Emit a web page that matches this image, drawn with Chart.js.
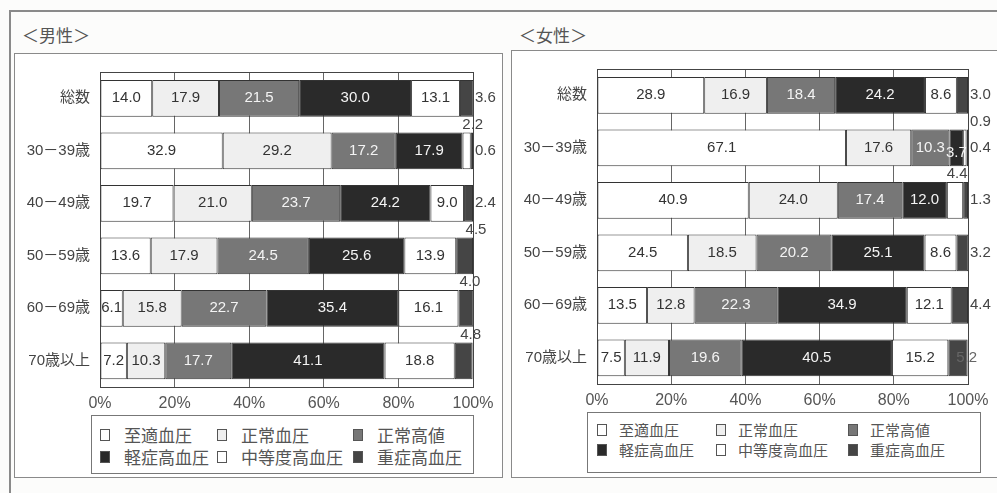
<!DOCTYPE html>
<html>
<head>
<meta charset="utf-8">
<script src="https://cdn.jsdelivr.net/npm/chart.js@4/dist/chart.umd.min.js"></script>
<style>
  body { margin: 0; background: #fcfcfb; font-family: "Liberation Sans", "Noto Sans CJK JP", sans-serif; color: #444; }
  #page { position: relative; width: 997px; height: 493px; overflow: hidden; }
  .line { position: absolute; background: #8a8a8a; }
  .panel { position: absolute; border: 1.5px solid #8a8a8a; background: #fff; box-sizing: border-box; }
  .title { position: absolute; font-family: "Noto Sans CJK JP", sans-serif; font-size: 17px; color: #555; }
  canvas { position: absolute; }
  .legend { position: absolute; border: 1.5px solid #777; box-sizing: border-box; background: #fff; }
  .item { position: absolute; font-family: "Noto Sans CJK JP", sans-serif; color: #555; white-space: nowrap; line-height: 1; }
  .sw { position: absolute; width: 10px; height: 12px; border: 1px solid #555; box-sizing: border-box; }
</style>
</head>
<body>
<div id="page">
  <div class="line" style="left:10px;top:10px;width:987px;height:1.5px"></div>
  <div class="line" style="left:9px;top:10px;width:1.5px;height:483px"></div>
  <div class="title" style="left:22px;top:22px">＜男性＞</div>
  <div class="title" style="left:519px;top:22px">＜女性＞</div>
  <div class="panel" style="left:14px;top:53px;width:489px;height:425px"></div>
  <div class="panel" style="left:511px;top:50px;width:490px;height:428px"></div>
  <canvas id="male" width="488" height="424" style="left:14px;top:53px"></canvas>
  <canvas id="female" width="485" height="427" style="left:512px;top:50px"></canvas>
  <div class="legend" id="legMale" style="left:91px;top:415px;width:383px;height:59px"></div>
  <div class="legend" id="legFemale" style="left:587px;top:412px;width:394px;height:61px"></div>
</div>
<script>
const categories = ['総数', '30－39歳', '40－49歳', '50－59歳', '60－69歳', '70歳以上'];
const seriesNames = ['至適血圧', '正常血圧', '正常高値', '軽症高血圧', '中等度高血圧', '重症高血圧'];
const seriesColors = ['#ffffff', '#efefef', '#777777', '#2a2a2a', '#ffffff', '#454545'];
const labelColors = ['#333', '#333', '#f4f4f4', '#f4f4f4', '#333', '#444'];
const xTicks = [0, 20, 40, 60, 80, 100];

// 男性
const maleOptimal = [14.0, 32.9, 19.7, 13.6, 6.1, 7.2];
const maleNormal = [17.9, 29.2, 21.0, 17.9, 15.8, 10.3];
const maleHighNormal = [21.5, 17.2, 23.7, 24.5, 22.7, 17.7];
const maleMild = [30.0, 17.9, 24.2, 25.6, 35.4, 41.1];
const maleModerate = [13.1, 2.2, 9.0, 13.9, 16.1, 18.8];
const maleSevere = [3.6, 0.6, 2.4, 4.5, 4.0, 4.8];

// 女性
const femaleOptimal = [28.9, 67.1, 40.9, 24.5, 13.5, 7.5];
const femaleNormal = [16.9, 17.6, 24.0, 18.5, 12.8, 11.9];
const femaleHighNormal = [18.4, 10.3, 17.4, 20.2, 22.3, 19.6];
const femaleMild = [24.2, 3.7, 12.0, 25.1, 34.9, 40.5];
const femaleModerate = [8.6, 0.9, 4.4, 8.6, 12.1, 15.2];
const femaleSevere = [3.0, 0.4, 1.3, 3.2, 4.4, 5.2];

// ラベル位置の例外 (dataset,index)
const malePlace = {
    '4,1': ['above', 2],
    '5,3': ['above', 3],
    '5,4': ['above', -3],
    '5,5': ['above', -2]
};
const femalePlace = {
    '4,1': ['above', 14],
    '4,2': ['above', -6],
    '3,1': ['center', 0, 5],
    '5,5': ['end', -1]
};

const segLabels = {
    id: 'segLabels',
    afterDatasetsDraw(chart, args, opts) {
        const ctx = chart.ctx;
        const area = chart.chartArea;
        ctx.save();
        ctx.font = '15px "Liberation Sans", sans-serif';
        chart.data.datasets.forEach(function (ds, i) {
            const meta = chart.getDatasetMeta(i);
            meta.data.forEach(function (bar, j) {
                const text = ds.data[j].toFixed(1);
                const right = Math.min(bar.x, area.right);
                let place = opts.place[i + ',' + j];
                if (!place) {
                    place = (i === 5) ? ['right', 0] : ['center', 0];
                }
                let x, y = bar.y, align = 'center', color = labelColors[i];
                if (place[0] === 'center') {
                    x = (bar.base + right) / 2 + place[1];
                    y = bar.y + (place[2] || 0);
                } else if (place[0] === 'right') {
                    x = right + 2 + place[1];
                    align = 'left';
                    color = '#444';
                } else if (place[0] === 'above') {
                    x = right + place[1];
                    y = bar.y - bar.height / 2 - 8;
                    color = '#444';
                } else {
                    x = right + place[1];
                    color = '#666';
                }
                ctx.fillStyle = color;
                ctx.textAlign = align;
                ctx.textBaseline = 'middle';
                ctx.fillText(text, x, y);
            });
        });
        ctx.restore();
    },
    beforeDatasetsDraw(chart) {
        // 枠線 (上・右)
        const ctx = chart.ctx;
        const a = chart.chartArea;
        ctx.save();
        ctx.strokeStyle = '#444';
        ctx.lineWidth = 1;
        ctx.strokeRect(a.left + 0.5, a.top + 0.5, a.right - a.left, a.bottom - a.top);
        ctx.restore();
    }
};

function drawPanel(canvasId, series, place, yWidth, xHeight) {
    const datasets = series.map(function (values, i) {
        return {
            label: seriesNames[i],
            data: values,
            backgroundColor: seriesColors[i],
            borderColor: '#333',
            borderWidth: 1,
            borderSkipped: false,
            barPercentage: 0.7,
            categoryPercentage: 1.0
        };
    });

    const options = {
        indexAxis: 'y',
        responsive: false,
        animation: false,
        devicePixelRatio: 1,
        layout: { padding: { top: 7, right: 29, left: 0, bottom: 0 } },
        scales: {
            x: {
                stacked: true,
                min: 0,
                max: 100,
                afterBuildTicks: function (scale) {
                    scale.ticks = xTicks.map(function (v) { return { value: v }; });
                },
                afterFit: function (scale) { scale.height = xHeight; },
                grid: { color: '#666', drawTicks: false, lineWidth: 1 },
                border: { display: true, color: '#444' },
                ticks: {
                    color: '#555',
                    padding: 7,
                    font: { size: 16, family: '"Liberation Sans", sans-serif' },
                    callback: function (value) { return value + '%'; }
                }
            },
            y: {
                stacked: true,
                afterFit: function (scale) { scale.width = yWidth; },
                grid: { display: false, drawTicks: false },
                border: { display: true, color: '#444' },
                ticks: {
                    color: '#444',
                    padding: 10,
                    font: { size: 15, family: '"Liberation Sans", "Noto Sans CJK JP", sans-serif' }
                }
            }
        },
        plugins: {
            legend: { display: false },
            tooltip: { enabled: false },
            segLabels: { place: place }
        }
    };

    const ctx = document.getElementById(canvasId).getContext('2d');
    return new Chart(ctx, {
        type: 'bar',
        data: { labels: categories, datasets: datasets },
        options: options,
        plugins: [segLabels]
    });
}

function buildLegend(id, cols, rows, fontSize) {
    const box = document.getElementById(id);
    seriesNames.forEach(function (name, i) {
        const col = i % 3;
        const row = Math.floor(i / 3);
        const item = document.createElement('div');
        item.className = 'item';
        item.style.left = cols[col] + 'px';
        item.style.top = rows[row] + 'px';
        item.style.fontSize = fontSize + 'px';
        const sw = document.createElement('div');
        sw.className = 'sw';
        sw.style.left = '0px';
        sw.style.top = '-6px';
        sw.style.background = seriesColors[i];
        item.appendChild(sw);
        const t = document.createElement('span');
        t.textContent = name;
        t.style.position = 'absolute';
        t.style.left = (cols[3]) + 'px';
        t.style.top = (-fontSize / 2 - 1) + 'px';
        item.appendChild(t);
        box.appendChild(item);
    });
}

drawPanel('male', [maleOptimal, maleNormal, maleHighNormal, maleMild, maleModerate, maleSevere], malePlace, 86, 90);
drawPanel('female', [femaleOptimal, femaleNormal, femaleHighNormal, femaleMild, femaleModerate, femaleSevere], femalePlace, 85, 93);
buildLegend('legMale', [8, 125, 261, 24], [19, 41], 17);
buildLegend('legFemale', [9, 128, 260, 22], [17, 37], 15);
</script>
</body>
</html>
